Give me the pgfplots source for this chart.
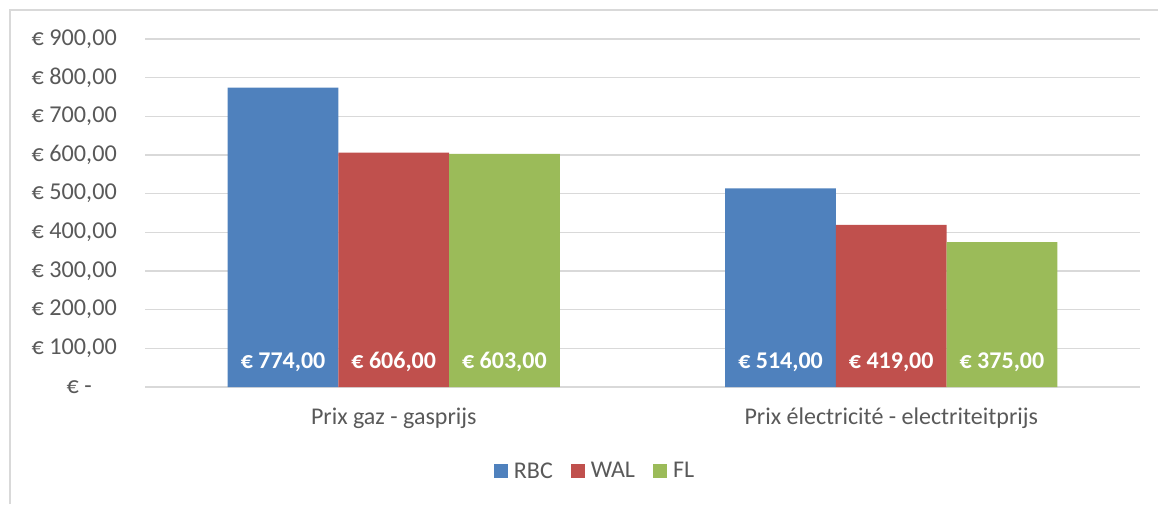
\documentclass[border=0pt]{standalone}
\usepackage{pgfplots}
\pgfplotsset{compat=1.18}
\usepackage{fontspec}
\setmainfont{Carlito}
\definecolor{cblue}{HTML}{4F81BD}
\definecolor{cred}{HTML}{C0504D}
\definecolor{cgreen}{HTML}{9BBB59}
\definecolor{txtgray}{HTML}{595959}
\definecolor{gridgray}{HTML}{D9D9D9}
\begin{document}
\begin{tikzpicture}[x=1pt,y=1pt]
\path[use as bounding box] (0,0) rectangle (1158,504);
\draw[color=gridgray, line width=1.3pt] (10,0) -- (10,494) -- (1158,494);
\begin{axis}[
  at={(145pt,117pt)}, anchor=south west,
  scale only axis, width=995pt, height=348pt,
  xmin=-0.5, xmax=1.5, ymin=0, ymax=900,
  axis line style={draw=none},
  major tick length=0pt,
  ytick={0,100,...,900},
  yticklabels={{€ -\hspace*{25pt}},{€ 100,00},{€ 200,00},{€ 300,00},{€ 400,00},{€ 500,00},{€ 600,00},{€ 700,00},{€ 800,00},{€ 900,00}},
  xtick={0,1},
  xticklabels={{Prix gaz - gasprijs},{Prix électricité - electriteitprijs}},
  ymajorgrids,
  grid style={gridgray, line width=1.3pt},
  yticklabel style={font=\fontsize{24.2}{28}\selectfont, text=txtgray, inner sep=0pt, anchor=east, xshift=-28pt},
  xticklabel style={font=\fontsize{24}{28}\selectfont, text=txtgray, inner sep=0pt, anchor=base, yshift=-37.5pt},
  /pgf/number format/assume math mode=true,
  ybar, bar width=0.2225,
  visualization depends on={y \as \myy},
  nodes near coords={€ \pgfmathprintnumber[fixed,fixed zerofill,precision=2,use comma,1000 sep={}]{\pgfplotspointmeta}},
  every node near coord/.append style={font=\bfseries\fontsize{24}{28}\selectfont, text=white, anchor=base, inner sep=0pt, yshift={-\myy*0.3866667pt+18.5pt}},
  legend style={at={(0.4513,-0.2414)}, anchor=center, draw=none, fill=none, legend columns=-1,
    font=\fontsize{24}{28}\selectfont, text=txtgray, inner sep=0pt,
    /tikz/every even column/.append style={column sep=18pt},
    /tikz/every odd column/.append style={column sep=6pt},
    nodes={inner sep=0pt}},
  legend image code/.code={\fill[#1] (0pt,-7pt) rectangle (14pt,7pt);},
  clip=false,
]
\addplot[fill=cblue, draw=none, bar shift=-0.2225] coordinates {(0,774) (1,514)};
\addplot[fill=cred, draw=none, bar shift=0] coordinates {(0,606) (1,419)};
\addplot[fill=cgreen, draw=none, bar shift=0.2225] coordinates {(0,603) (1,375)};
\legend{RBC, WAL, FL}
\end{axis}
\end{tikzpicture}
\end{document}
